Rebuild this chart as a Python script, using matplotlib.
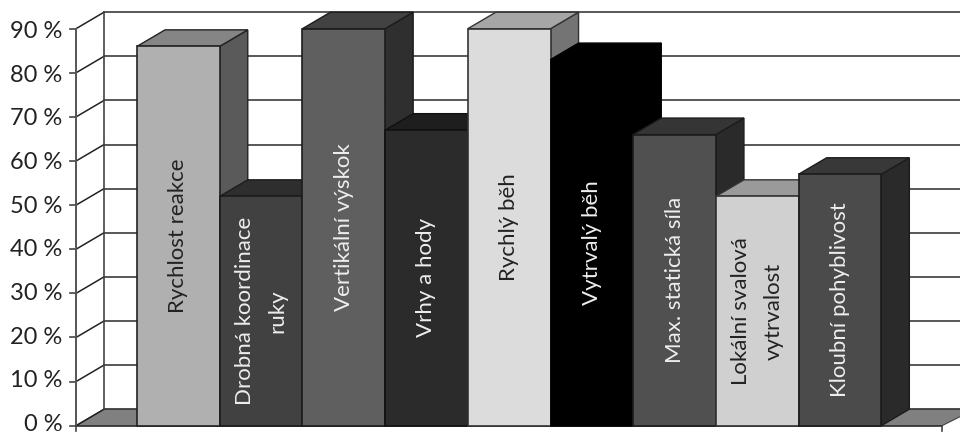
"""Sloupcový graf s prostorovým efektem (kvádry) v odstínech šedi."""

import matplotlib
matplotlib.use("Agg")
import matplotlib.pyplot as plt
from matplotlib.patches import Polygon

NAZVY = [
    "Rychlost reakce", "Drobná koordinace\nruky", "Vertikální výskok",
    "Vrhy a hody", "Rychlý běh", "Vytrvalý běh",
    "Max. statická síla", "Lokální svalová\nvytrvalost", "Kloubní pohyblivost",
]
HODNOTY = [86, 52, 90, 67, 90, 83, 66, 52, 57]
BARVY_CELO = ["#b0b0b0", "#414141", "#5f5f5f", "#2b2b2b", "#dcdcdc", "#000000", "#505050", "#d0d0d0", "#4b4b4b"]
BARVY_VRCH = ["#858585", "#2e2e2e", "#424242", "#1e1e1e", "#a6a6a6", "#000000", "#353535", "#9a9a9a", "#383838"]
BARVY_BOK = ["#5a5a5a", "#262626", "#2f2f2f", "#151515", "#747474", "#000000", "#2a2a2a", "#777777", "#2a2a2a"]
BARVY_TEXT = ["#222222", "#eeeeee", "#eeeeee", "#eeeeee", "#222222", "#eeeeee", "#eeeeee", "#222222", "#eeeeee"]
BARVY_OKRAJ = ["#222222", "#1c1c1c", "#1c1c1c", "#111111", "#333333", "#000000", "#1c1c1c", "#333333", "#1c1c1c"]
POPISKY_Y = [0, 10, 20, 30, 40, 50, 60, 70, 80, 90]

HLOUBKA_X = 0.339
HLOUBKA_Y = 3.74
MRIZKA = "#3c3c3c"

FONT = ["Lato", "DejaVu Sans"]


def kvadr(ax, x, v, celo, vrch, bok, okraj):
    """Nakreslí jeden sloupec jako boční, horní a čelní stěnu."""
    dx, dy = HLOUBKA_X, HLOUBKA_Y
    ax.add_patch(Polygon([(x + 1, 0), (x + 1 + dx, dy), (x + 1 + dx, v + dy), (x + 1, v)],
                         fc=bok, ec=okraj, lw=1.0, clip_on=False, zorder=3))
    ax.add_patch(Polygon([(x, v), (x + dx, v + dy), (x + 1 + dx, v + dy), (x + 1, v)],
                         fc=vrch, ec=okraj, lw=1.0, clip_on=False, zorder=3))
    ax.add_patch(Polygon([(x, 0), (x, v), (x + 1, v), (x + 1, 0)],
                         fc=celo, ec=okraj, lw=1.2, clip_on=False, zorder=3))


fig = plt.figure(figsize=(9.6, 4.34), dpi=100)
# osa odpovídá přední hraně grafu, zadní stěna je posunutá o hloubku
ax = fig.add_axes([76 / 960, 1 - 425.7 / 434, 866 / 960, 397 / 434])
ax.set_xlim(-0.738, 9.734)
ax.set_ylim(0, 90)
ax.axis("off")

x0, x1 = ax.get_xlim()
konec = x1 + 0.4

# podlaha
ax.add_patch(Polygon([(x0, 0), (x0 + HLOUBKA_X, HLOUBKA_Y), (konec, HLOUBKA_Y), (x1, 0)],
                     fc="#808080", ec="#444444", lw=0.8, clip_on=False, zorder=1))

# zadní mřížka a šikmé linky na levé stěně
for h in POPISKY_Y:
    yb = h + HLOUBKA_Y
    ax.plot([x0 + HLOUBKA_X, konec], [yb, yb], color=MRIZKA, lw=1.2, clip_on=False, zorder=1)
    ax.plot([x0, x0 + HLOUBKA_X], [h, yb], color="#222222", lw=1.1, clip_on=False, zorder=1)
    ax.plot([x0 - 0.07, x0], [h, h], color="#444444", lw=1.2, clip_on=False, zorder=1)
    # popisky jsou k horní značce mírně stažené
    ax.text(x0 - 0.165, h * 0.99 + 0.3, f"{h} %", ha="right", va="center", fontsize=17,
            family=FONT, color="#222222", clip_on=False)

ax.plot([x0, x0], [0, 90], color="#555555", lw=1.4, clip_on=False, zorder=1)
ax.plot([x0 + HLOUBKA_X] * 2, [HLOUBKA_Y, 90 + HLOUBKA_Y], color="#444444", lw=1.2,
        clip_on=False, zorder=1)

# spodní osa s krajními značkami
ax.plot([x0, x1], [0, 0], color="#333333", lw=1.2, clip_on=False, zorder=2)
for xt in (x0, x1):
    ax.plot([xt, xt], [0, -1.2], color="#444444", lw=1.2, clip_on=False, zorder=2)

# sloupce se kreslí zleva, další vždy překryje bok předchozího
for i, v in enumerate(HODNOTY):
    kvadr(ax, i, v, BARVY_CELO[i], BARVY_VRCH[i], BARVY_BOK[i], BARVY_OKRAJ[i])
    ax.text(i + 0.5, v / 2, NAZVY[i], rotation=90, ha="center", va="center", ma="center",
            fontsize=16, family=FONT, color=BARVY_TEXT[i], linespacing=1.75, zorder=4)

fig.savefig("out.png", dpi=100, facecolor="white")
